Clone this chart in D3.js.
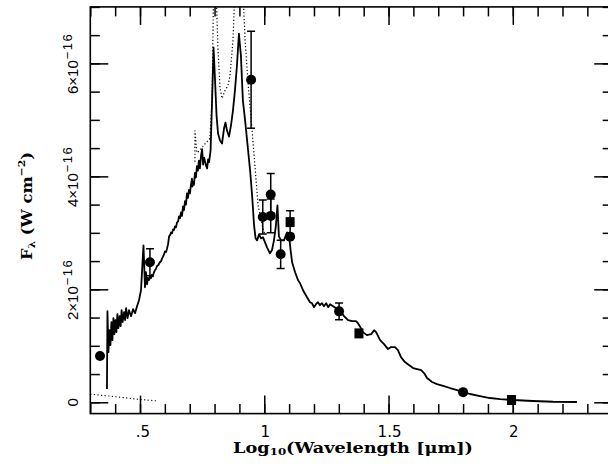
<!DOCTYPE html>
<html>
<head>
<meta charset="utf-8">
<script src="https://cdn.jsdelivr.net/npm/d3@7"></script>
<style>
body { margin: 0; background: #fff; }
svg { display: block; }
</style>
</head>
<body>
<svg id="chart" width="608" height="466"></svg>
<script>
const specLogW = [0.367,0.369,0.373,0.377,0.381,0.385,0.389,0.393,0.397,0.401,0.405,0.409,0.413,0.418,0.422,0.426,0.430,0.436,0.440,0.444,0.450,0.456,0.464,0.472,0.480,0.488,0.496,0.504,0.514,0.520,0.524,0.528,0.532,0.536,0.540,0.544,0.548,0.552,0.556,0.560,0.564,0.568,0.574,0.580,0.585,0.589,0.595,0.601,0.605,0.609,0.613,0.617,0.621,0.625,0.629,0.633,0.637,0.641,0.645,0.649,0.653,0.657,0.661,0.665,0.669,0.673,0.677,0.681,0.685,0.689,0.693,0.697,0.701,0.705,0.709,0.711,0.713,0.717,0.721,0.725,0.729,0.733,0.737,0.741,0.746,0.750,0.754,0.758,0.762,0.766,0.770,0.774,0.778,0.784,0.790,0.796,0.802,0.808,0.814,0.822,0.830,0.838,0.844,0.850,0.858,0.866,0.874,0.882,0.890,0.898,0.906,0.914,0.923,0.931,0.943,0.951,0.959,0.965,0.971,0.979,0.987,0.995,1.003,1.011,1.023,1.031,1.039,1.047,1.053,1.059,1.067,1.079,1.092,1.100,1.106,1.112,1.124,1.136,1.144,1.156,1.172,1.184,1.192,1.200,1.208,1.216,1.224,1.232,1.240,1.249,1.257,1.265,1.277,1.289,1.305,1.321,1.337,1.353,1.369,1.377,1.389,1.397,1.413,1.430,1.442,1.450,1.466,1.482,1.498,1.510,1.526,1.538,1.550,1.566,1.582,1.599,1.615,1.631,1.643,1.655,1.675,1.695,1.723,1.747,1.776,1.800,1.828,1.868,1.908,1.949,2.001,2.081,2.162,2.258];
const specFlux = [0.235,1.613,0.889,1.277,1.012,1.419,1.101,1.489,1.207,1.454,1.242,1.560,1.313,1.525,1.348,1.631,1.419,1.595,1.454,1.666,1.489,1.631,1.525,1.648,1.578,1.701,1.807,1.984,2.779,2.037,2.302,2.090,2.200,2.161,2.240,2.196,2.260,2.231,2.300,2.337,2.360,2.408,2.430,2.479,2.500,2.549,2.600,2.673,2.660,2.726,2.800,2.938,2.960,3.009,2.990,3.062,3.050,3.115,3.100,3.186,3.200,3.292,3.260,3.362,3.300,3.468,3.400,3.560,3.500,3.700,3.620,3.760,3.700,3.850,3.960,3.820,3.900,3.850,4.060,3.980,4.180,4.100,4.280,4.140,4.380,4.480,4.210,4.330,4.260,4.190,4.140,4.300,4.250,4.458,5.341,6.277,5.694,5.076,4.758,4.634,4.581,4.846,4.952,4.811,4.705,4.899,5.164,5.518,5.959,6.525,6.136,5.341,4.988,4.634,4.104,3.663,3.133,2.903,2.867,2.973,2.903,2.921,2.832,2.744,2.638,2.691,2.867,3.133,3.486,2.938,2.867,2.867,3.009,2.938,2.691,2.479,2.302,2.161,2.108,1.984,1.860,1.772,1.754,1.684,1.737,1.772,1.719,1.754,1.701,1.754,1.684,1.737,1.701,1.666,1.631,1.525,1.454,1.436,1.436,1.401,1.313,1.242,1.189,1.207,1.277,1.242,1.101,1.030,0.942,0.977,0.977,0.924,0.800,0.712,0.659,0.606,0.588,0.571,0.518,0.429,0.359,0.323,0.288,0.253,0.217,0.182,0.147,0.111,0.076,0.058,0.041,0.023,0.010,0.005];

const dotLogW = [0.721,0.721,0.729,0.741,0.762,0.781,0.790,0.796,0.806,0.814,0.822,0.830,0.842,0.854,0.862,0.874,0.882,0.914,0.923,0.935,0.951,0.963,0.975,0.991,1.003];
const dotFlux = [4.26,4.81,4.42,4.46,4.58,4.67,5.34,7.30,7.30,6.22,5.57,5.38,5.52,5.61,5.78,6.40,7.30,7.30,6.40,5.64,4.81,4.16,3.49,3.14,2.96];

const lowDotLogW = [0.30,0.40,0.50,0.57];
const lowDotFlux = [0.145,0.10,0.05,0.025];

const circLogW = [0.339,0.540,0.947,0.994,1.026,1.026,1.066,1.104,1.301,1.800];
const circFlux = [0.82,2.48,5.71,3.28,3.68,3.30,2.62,2.93,1.61,0.18];
const circErr  = [0,0.24,0.86,0.30,0.37,0.30,0.25,0,0.15,0];

const sqLogW = [1.104,1.381,1.995];
const sqFlux = [3.19,1.22,0.04];
const sqErr  = [0.20,0,0];

const xMajor = [0.5,1,1.5,2];
const xLabels = ['.5','1','1.5','2'];
const xMinor = d3.range(3,24).map(function(i){ return i/10; });
const yMajor = [0,2,4,6];
const yLabels = ['0','2×10','4×10','6×10'];
const yMinor = d3.range(0,15).map(function(i){ return i/2; });

const svg = d3.select('#chart');

const x = d3.scaleLinear().domain([0.3, 2.4]).range([90.3, 612.2]);
const y = d3.scaleLinear().domain([-0.2, 7]).range([413.6, 6.9]);

svg.append('clipPath').attr('id', 'clip')
  .append('rect')
  .attr('x', x(0.3)).attr('y', y(7))
  .attr('width', x(2.4) - x(0.3)).attr('height', y(-0.2) - y(7));

const plot = svg.append('g').attr('clip-path', 'url(#clip)');

const line = d3.line()
  .x(function(d){ return x(d[0]); })
  .y(function(d){ return y(d[1]); });

plot.append('path')
  .attr('d', line(lowDotLogW.map(function(v,i){ return [v, lowDotFlux[i]]; })))
  .attr('fill', 'none').attr('stroke', '#000').attr('stroke-width', 1.1)
  .attr('stroke-dasharray', '1.2,2.4');

plot.append('path')
  .attr('d', line(dotLogW.map(function(v,i){ return [v, dotFlux[i]]; })))
  .attr('fill', 'none').attr('stroke', '#000').attr('stroke-width', 1.2)
  .attr('stroke-dasharray', '1.2,2.2');

plot.append('path')
  .attr('d', line(specLogW.map(function(v,i){ return [v, specFlux[i]]; })))
  .attr('fill', 'none').attr('stroke', '#000').attr('stroke-width', 1.8)
  .attr('stroke-linejoin', 'round');

const points = circLogW.map(function(v,i){ return {x:v, y:circFlux[i], e:circErr[i], shape:'c'}; })
  .concat(sqLogW.map(function(v,i){ return {x:v, y:sqFlux[i], e:sqErr[i], shape:'s'}; }));

const bars = plot.selectAll('g.err')
  .data(points.filter(function(d){ return d.e > 0; }))
  .join('g').attr('class', 'err')
  .attr('stroke', '#000').attr('stroke-width', 1.5);

bars.append('line')
  .attr('x1', function(d){ return x(d.x); }).attr('x2', function(d){ return x(d.x); })
  .attr('y1', function(d){ return y(d.y + d.e); }).attr('y2', function(d){ return y(d.y - d.e); });
bars.append('line')
  .attr('x1', function(d){ return x(d.x) - 4; }).attr('x2', function(d){ return x(d.x) + 4; })
  .attr('y1', function(d){ return y(d.y + d.e); }).attr('y2', function(d){ return y(d.y + d.e); });
bars.append('line')
  .attr('x1', function(d){ return x(d.x) - 4; }).attr('x2', function(d){ return x(d.x) + 4; })
  .attr('y1', function(d){ return y(d.y - d.e); }).attr('y2', function(d){ return y(d.y - d.e); });

plot.selectAll('circle.pt')
  .data(points.filter(function(d){ return d.shape === 'c'; }))
  .join('circle').attr('class', 'pt')
  .attr('cx', function(d){ return x(d.x); })
  .attr('cy', function(d){ return y(d.y); })
  .attr('r', 5).attr('fill', '#000');

plot.selectAll('rect.pt')
  .data(points.filter(function(d){ return d.shape === 's'; }))
  .join('rect').attr('class', 'pt')
  .attr('x', function(d){ return x(d.x) - 4.5; })
  .attr('y', function(d){ return y(d.y) - 5; })
  .attr('width', 9).attr('height', 10).attr('fill', '#000');

function ticks(axis, values, size) {
  return axis.tickValues(values).tickSize(-size).tickFormat('');
}

function dropDomain(g) {
  g.select('.domain').remove();
  g.selectAll('.tick line').attr('stroke', '#000').attr('stroke-width', 1.5);
}

[[d3.axisBottom, y(-0.2), 'x'], [d3.axisTop, y(7), 'x'], [d3.axisLeft, x(0.3), 'y'], [d3.axisRight, x(2.4), 'y']]
  .forEach(function(a){
    const sc = a[2] === 'x' ? x : y;
    const mi = a[2] === 'x' ? xMinor : yMinor;
    const ma = a[2] === 'x' ? xMajor : yMajor;
    const tr = a[2] === 'x' ? 'translate(0,' + a[1] + ')' : 'translate(' + a[1] + ',0)';
    svg.append('g').attr('transform', tr).call(ticks(a[0](sc), mi, 9.5)).call(dropDomain);
    svg.append('g').attr('transform', tr).call(ticks(a[0](sc), ma, 18)).call(dropDomain);
  });

svg.append('rect')
  .attr('x', x(0.3)).attr('y', y(7))
  .attr('width', x(2.4) - x(0.3)).attr('height', y(-0.2) - y(7))
  .attr('fill', 'none').attr('stroke', '#000').attr('stroke-width', 1.6);

svg.selectAll('text.xl')
  .data(xMajor)
  .join('text').attr('class', 'xl')
  .attr('x', function(d, i){ return x(d) + (i === 0 ? 3 : 1); })
  .attr('y', 437)
  .attr('text-anchor', 'middle')
  .attr('font-family', 'DejaVu Sans')
  .attr('font-size', 15)
  .text(function(d, i){ return xLabels[i]; });

const yl = svg.selectAll('text.yl')
  .data(yMajor)
  .join('text').attr('class', 'yl')
  .attr('transform', function(d){ return 'translate(78,' + y(d) + ') rotate(-90)'; })
  .attr('text-anchor', 'middle')
  .attr('font-family', 'Liberation Sans')
  .attr('font-size', 15);

yl.append('tspan').text(function(d, i){ return yLabels[i]; });
yl.filter(function(d){ return d !== 0; })
  .append('tspan').attr('dy', -6).attr('dx', 1).attr('font-size', 13)
  .attr('letter-spacing', 1.5).text('−16');

function stretch(t, cx, cy, w, rot) {
  const bw = t.node().getBBox().width;
  t.attr('transform', 'translate(' + cx + ',' + cy + ') rotate(' + rot + ') scale(' + (w / bw) + ',1)');
}

const xt = svg.append('text')
  .attr('text-anchor', 'middle')
  .attr('font-family', 'DejaVu Serif')
  .attr('font-weight', 'bold')
  .attr('font-size', 15);
xt.append('tspan').text('Log');
xt.append('tspan').attr('font-size', 10).attr('dy', 2).text('10');
xt.append('tspan').attr('dy', -2).text('(Wavelength [μm])');
stretch(xt, 353, 453, 240, 0);

const yt = svg.append('text')
  .attr('text-anchor', 'middle')
  .attr('font-family', 'DejaVu Serif')
  .attr('font-weight', 'bold')
  .attr('font-size', 15);
yt.append('tspan').text('F');
yt.append('tspan').attr('font-size', 10).attr('dy', 3).text('λ');
yt.append('tspan').attr('dy', -3).text(' (W cm');
yt.append('tspan').attr('font-size', 10).attr('dy', -7).text('−2');
yt.append('tspan').attr('dy', 7).text(')');
stretch(yt, 32, 206, 108, -90);
</script>
</body>
</html>
